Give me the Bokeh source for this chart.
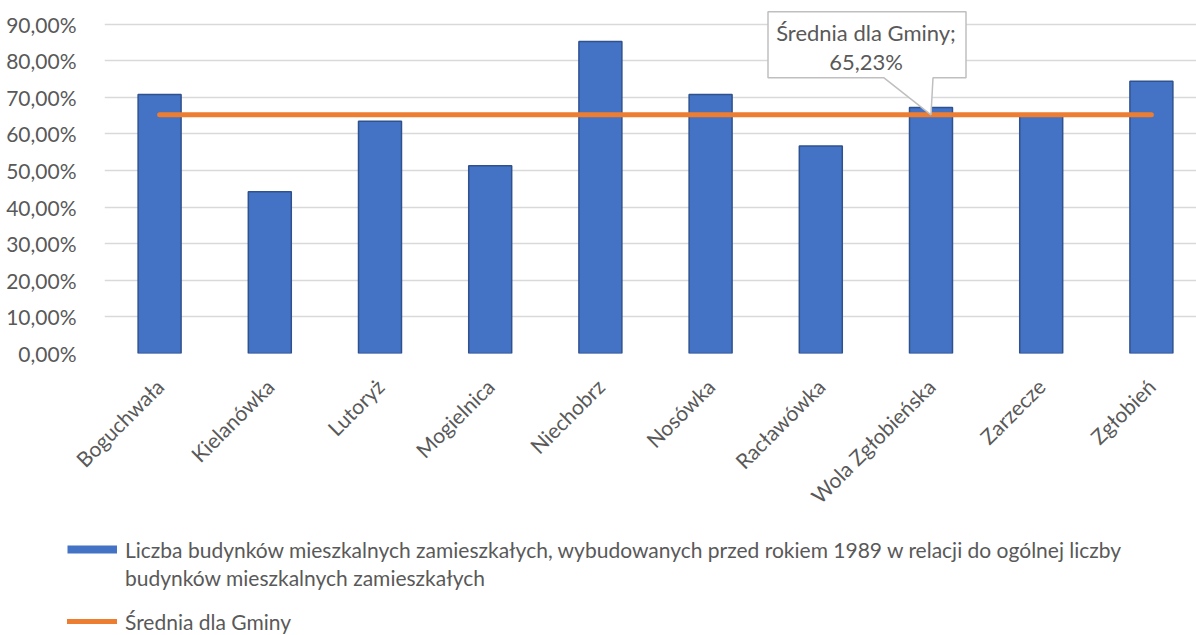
import math
from bokeh.plotting import figure
from bokeh.layouts import column
from bokeh.models import (ColumnDataSource, FixedTicker, CustomJSTickFormatter,
                          Legend, LegendItem, Range1d)
from bokeh.core.properties import value
from bokeh.embed import file_html
from bokeh.resources import INLINE

# ---------------- data ----------------
categories = ["Boguchwała", "Kielanówka", "Lutoryż", "Mogielnica", "Niechobrz",
              "Nosówka", "Racławówka", "Wola Zgłobieńska", "Zarzecze", "Zgłobień"]
share_pre1989 = [70.8, 44.2, 63.5, 51.3, 85.3, 70.8, 56.7, 67.2, 65.0, 74.4]
gmina_average = 65.23
y_ticks = [0, 10, 20, 30, 40, 50, 60, 70, 80, 90]
bar_series_label_lines = ["Liczba budynków mieszkalnych zamieszkałych, wybudowanych przed rokiem 1989 "
                          "w relacji do ogólnej liczby",
                          "budynków mieszkalnych zamieszkałych"]
avg_series_label = "Średnia dla Gminy"
callout_category = "Wola Zgłobieńska"

# ---------------- style ----------------
FONT = "Lato"
TEXT = "#595959"
BLUE = "#4472C4"
ORANGE = "#ED7D31"
GRID = "#D9D9D9"

W = 1196
H_CHART, H_LEG = 530, 105
LEFT = 104
FRAME_W = W - LEFT
FRAME_H = 353
X0, X1 = -0.5, -0.5 + FRAME_W / 110.2
Y0, Y1 = 0, FRAME_H / 3.659
px_x = (X1 - X0) / FRAME_W   # data units per pixel
px_y = (Y1 - Y0) / FRAME_H

idx = list(range(len(categories)))
avg_values = [gmina_average] * len(idx)
src = ColumnDataSource(dict(x=idx, v=share_pre1989, avg=avg_values, name=categories))

p = figure(width=W, height=H_CHART, output_backend="svg", toolbar_location=None,
           x_range=Range1d(X0, X1), y_range=Range1d(Y0, Y1),
           min_border_left=LEFT, min_border_right=0, min_border_top=0,
           min_border_bottom=H_CHART - FRAME_H)
p.outline_line_color = None
p.background_fill_color = "white"
p.border_fill_color = "white"

# grid
p.xgrid.visible = False
p.ygrid.ticker = FixedTicker(ticks=y_ticks)
p.ygrid.grid_line_color = GRID
p.ygrid.grid_line_width = 1.5

# y axis
p.yaxis.ticker = FixedTicker(ticks=y_ticks)
p.yaxis.formatter = CustomJSTickFormatter(
    code="return tick.toFixed(2).replace('.', ',') + '%';")
p.yaxis.axis_line_color = None
p.yaxis.major_tick_line_color = None
p.yaxis.minor_tick_line_color = None
p.yaxis.major_label_standoff = 22
p.yaxis.major_label_text_font = FONT
p.yaxis.major_label_text_font_size = "21px"
p.yaxis.major_label_text_color = TEXT

# x axis
p.xaxis.ticker = FixedTicker(ticks=idx)
p.xaxis.major_label_overrides = {i: c for i, c in zip(idx, categories)}
p.xaxis.major_label_orientation = math.pi / 4
p.xaxis.axis_line_color = None
p.xaxis.major_tick_line_color = None
p.xaxis.minor_tick_line_color = None
p.xaxis.major_label_standoff = 23
p.xaxis.major_label_text_font = FONT
p.xaxis.major_label_text_font_size = "21px"
p.xaxis.major_label_text_color = TEXT

# bars
bars = p.vbar(x="x", top="v", width=0.39, source=src,
              fill_color=BLUE, line_color="#2F528F", line_width=1.5)

# average line
line_style = dict(line_color=ORANGE, line_width=5, line_cap="round")
avg_line = p.line(x="x", y="avg", source=src, **line_style)

# callout for the average
ax = categories.index(callout_category)
ay = gmina_average
bl, br = ax - 163 * px_x, ax + 35 * px_x
bt, bb = ay + 103 * px_y, ay + 37 * px_y
pl, pr = ax - 47 * px_x, ax + 2 * px_x
p.patch(x=[bl, br, br, pr, ax, pl, bl], y=[bt, bt, bb, bb, ay, bb, bb],
        fill_color="white", line_color="#BFBFBF", line_width=1.5)
avg_text = f"{gmina_average:.2f}".replace(".", ",") + "%"
tx = ax - 65 * px_x
p.text(x=[tx, tx], y=[ay + 82 * px_y, ay + 53 * px_y],
       text=[avg_series_label + ";", avg_text],
       text_font=value(FONT), text_font_size="22px", text_color=TEXT,
       text_align="center", text_baseline="middle")

# ---------------- legend strip ----------------
# the strip's own ranges lie far away from the data, so its renderers only
# serve as legend keys
lg = figure(width=W, height=H_LEG, output_backend="svg", toolbar_location=None,
            x_range=Range1d(-100, -99), y_range=Range1d(-100, -99),
            x_axis_type=None, y_axis_type=None,
            min_border_left=0, min_border_right=0, min_border_top=0, min_border_bottom=0)
for fig in (p, lg):
    if "frame_align" in fig.properties():
        fig.frame_align = False
lg.outline_line_color = None
lg.xgrid.visible = False
lg.ygrid.visible = False
leg_bars = lg.line(x="x", y="v", source=src, line_color=BLUE, line_width=8,
                   line_cap="butt")
leg_blank = lg.line(x="x", y="v", source=src, line_alpha=0)
leg_line = lg.line(x="x", y="avg", source=src, **line_style)

legend_style = dict(orientation="vertical", border_line_color=None,
                    background_fill_alpha=0, label_text_font=FONT,
                    label_text_font_size="21px", label_text_color=TEXT,
                    label_text_line_height=1.35, glyph_width=50, glyph_height=28,
                    label_standoff=8, spacing=0, padding=0, margin=0)

legend_bars = Legend(items=[LegendItem(label=bar_series_label_lines[0], renderers=[leg_bars]),
                            LegendItem(label=bar_series_label_lines[1], renderers=[leg_blank])],
                     location=(67, 44), **legend_style)
legend_avg = Legend(items=[LegendItem(label=avg_series_label, renderers=[leg_line])],
                    location=(67, 0), **legend_style)
lg.add_layout(legend_bars)
lg.add_layout(legend_avg)

layout = column(p, lg, spacing=0)
open("out.html", "w").write(file_html(layout, INLINE))
